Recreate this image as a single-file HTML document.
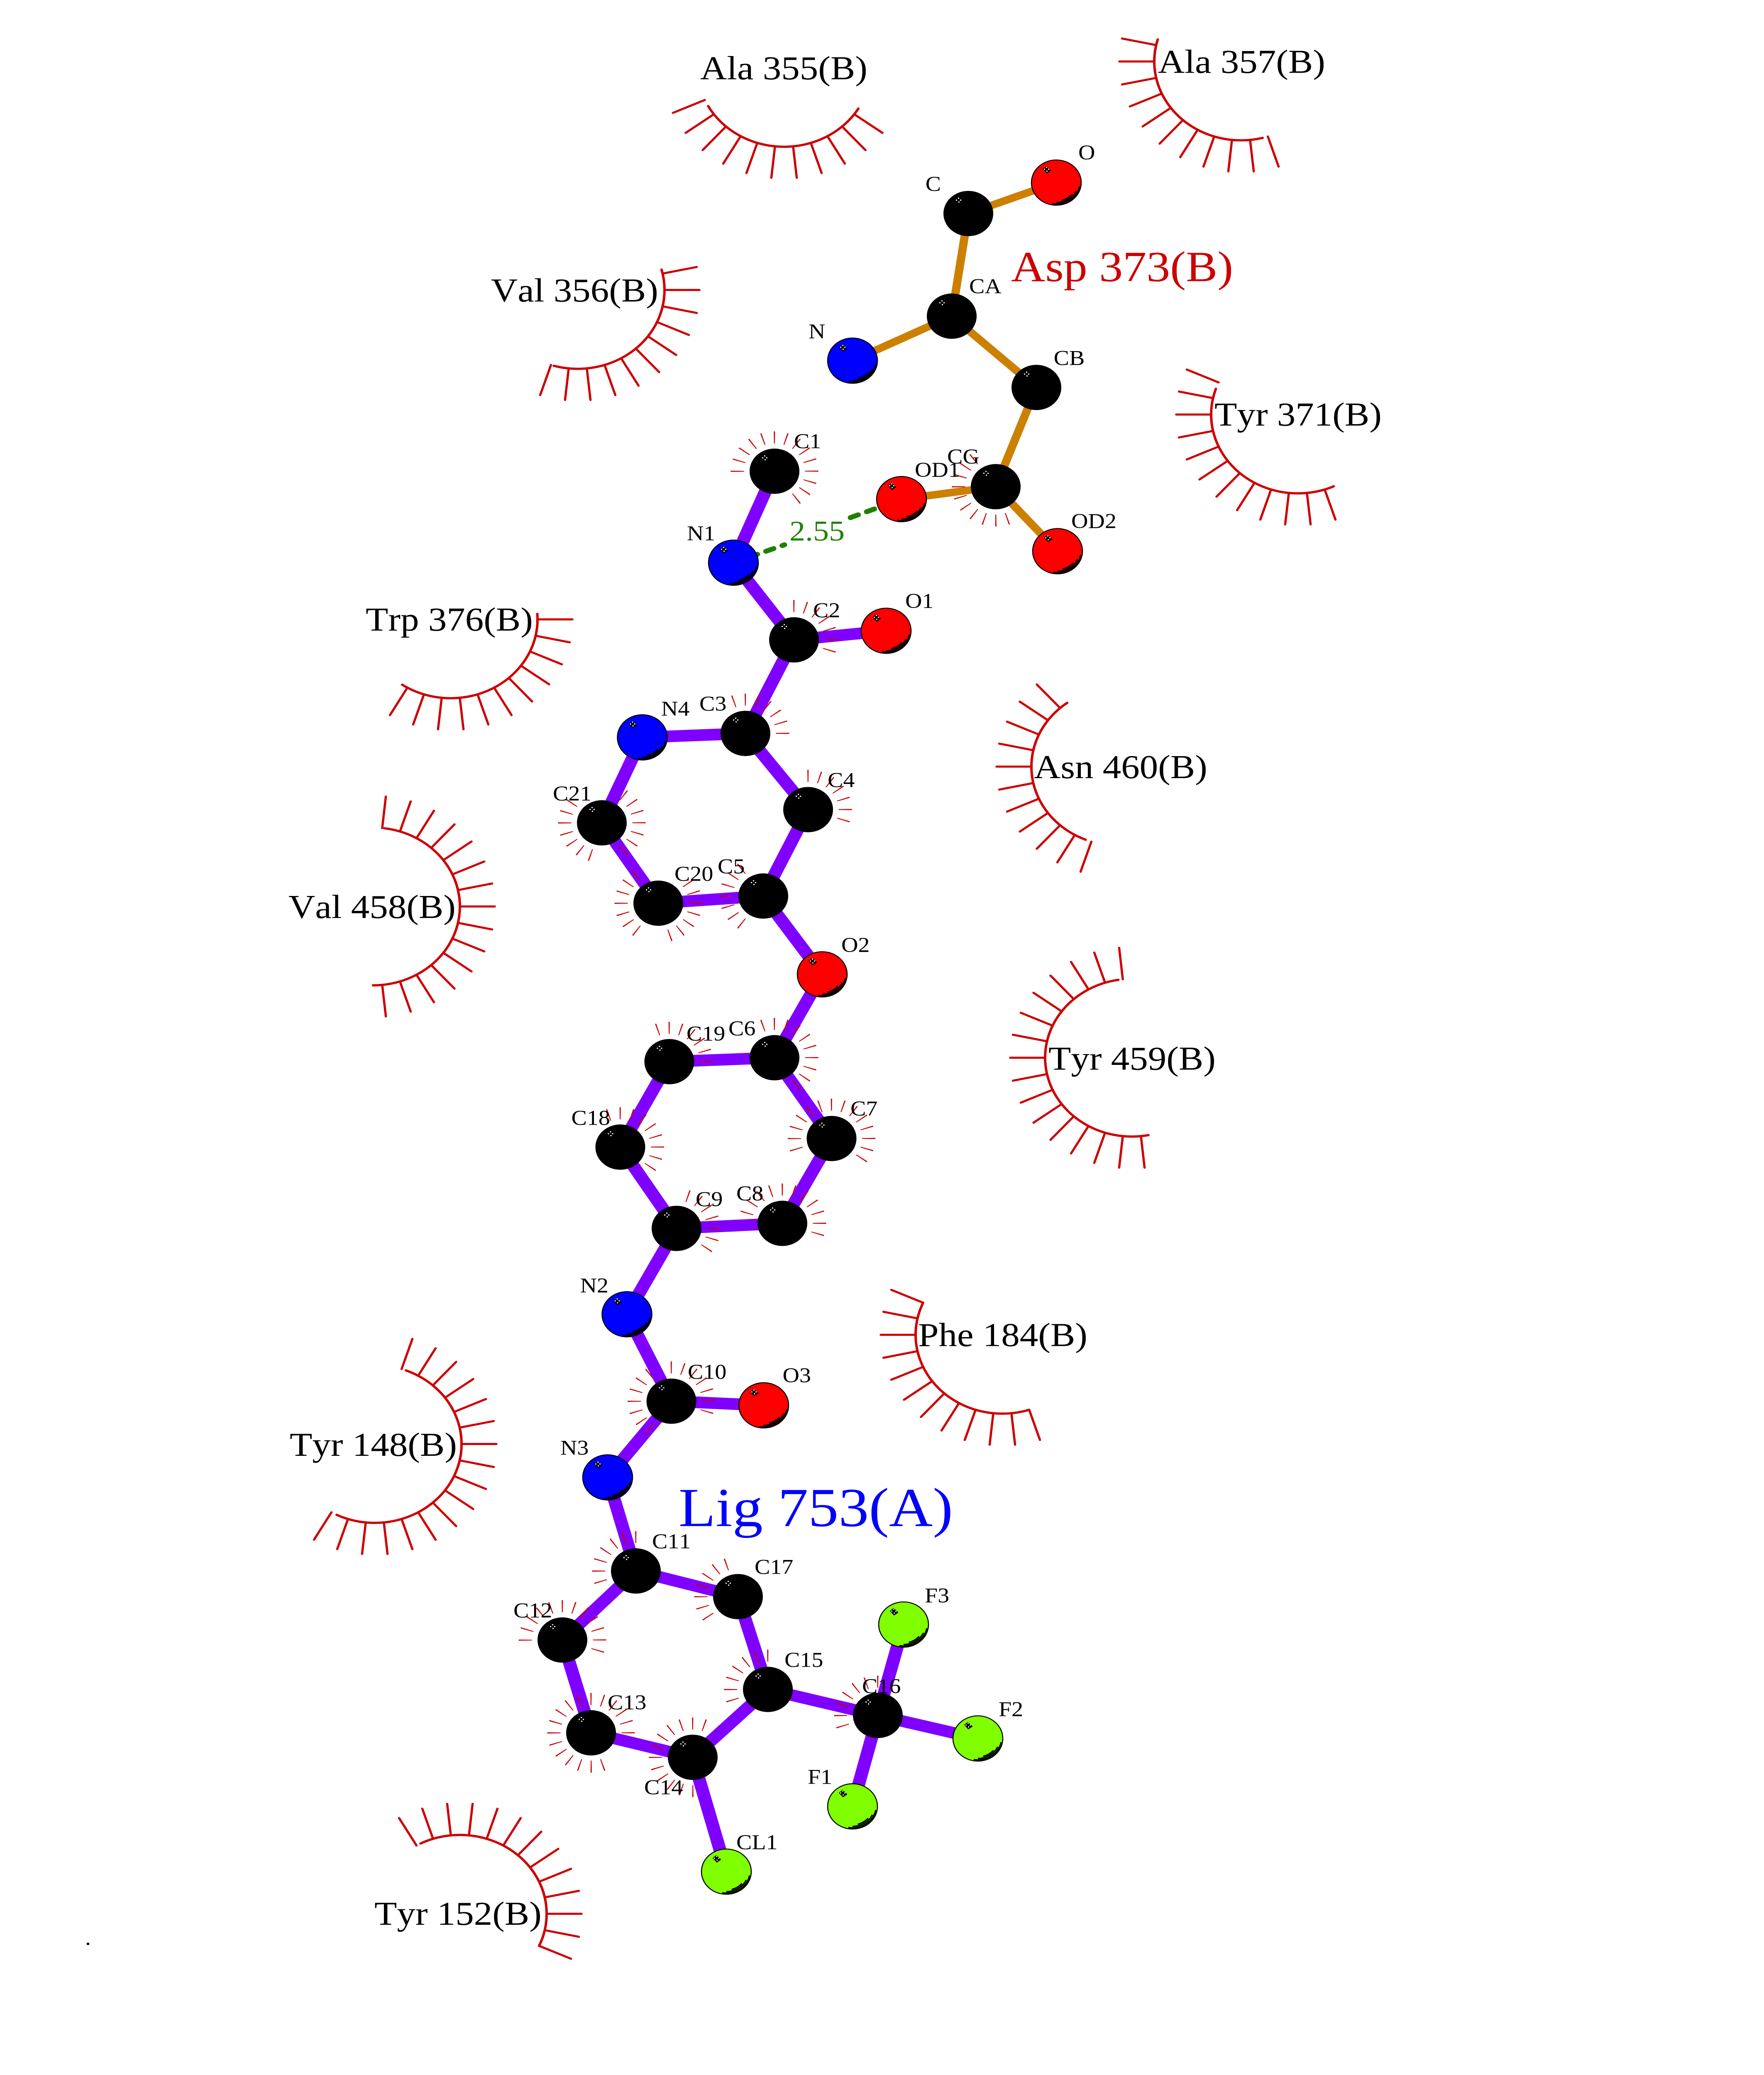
<!DOCTYPE html>
<html>
<head>
<meta charset="utf-8">
<title>LigPlot diagram</title>
<style>
html,body{margin:0;padding:0;background:#fff;width:100%;height:100%;overflow:hidden}
svg{display:block;position:fixed;left:0;top:0;width:100vw;height:100vh;overflow:hidden}
text{font-family:"Liberation Serif","Times New Roman",serif;font-kerning:none}
.r{font-size:89px;fill:#000}
.a{font-size:56px;fill:#000}
</style>
</head>
<body>
<svg xmlns="http://www.w3.org/2000/svg" viewBox="0 0 4250 5500" preserveAspectRatio="none">
<defs>
<line id="s" x1="209" y1="0" x2="293" y2="0" stroke="#cc0000" stroke-width="5.5" stroke-linecap="round"/>
<g id="f11">
<use href="#s"/><use href="#s" transform="rotate(12)"/><use href="#s" transform="rotate(24)"/><use href="#s" transform="rotate(36)"/><use href="#s" transform="rotate(48)"/><use href="#s" transform="rotate(60)"/><use href="#s" transform="rotate(72)"/><use href="#s" transform="rotate(84)"/><use href="#s" transform="rotate(96)"/><use href="#s" transform="rotate(108)"/><use href="#s" transform="rotate(120)"/>
</g>
<g id="f12"><use href="#f11"/><use href="#s" transform="rotate(132)"/></g>
<g id="f13"><use href="#f12"/><use href="#s" transform="rotate(144)"/></g>
<g id="f15"><use href="#f13"/><use href="#s" transform="rotate(156)"/><use href="#s" transform="rotate(168)"/></g>
<g id="f16"><use href="#f15"/><use href="#s" transform="rotate(180)"/></g>
<g id="f17"><use href="#f16"/><use href="#s" transform="rotate(192)"/></g>

<circle id="c7" r="89.5" fill="none" stroke="#cc0000" stroke-width="32" stroke-dasharray="2.6 25.52 2.6 25.52 2.6 25.52 2.6 25.52 2.6 25.52 2.6 25.52 2.6 900"/>
<circle id="c9" r="89.5" fill="none" stroke="#cc0000" stroke-width="32" stroke-dasharray="2.6 25.52 2.6 25.52 2.6 25.52 2.6 25.52 2.6 25.52 2.6 25.52 2.6 25.52 2.6 25.52 2.6 900"/>
<circle id="c10" r="89.5" fill="none" stroke="#cc0000" stroke-width="32" stroke-dasharray="2.6 25.52 2.6 25.52 2.6 25.52 2.6 25.52 2.6 25.52 2.6 25.52 2.6 25.52 2.6 25.52 2.6 25.52 2.6 900"/>
<circle id="c11" r="89.5" fill="none" stroke="#cc0000" stroke-width="32" stroke-dasharray="2.6 25.52 2.6 25.52 2.6 25.52 2.6 25.52 2.6 25.52 2.6 25.52 2.6 25.52 2.6 25.52 2.6 25.52 2.6 25.52 2.6 900"/>
<circle id="c12" r="89.5" fill="none" stroke="#cc0000" stroke-width="32" stroke-dasharray="2.6 25.52 2.6 25.52 2.6 25.52 2.6 25.52 2.6 25.52 2.6 25.52 2.6 25.52 2.6 25.52 2.6 25.52 2.6 25.52 2.6 25.52 2.6 900"/>
<circle id="c14" r="89.5" fill="none" stroke="#cc0000" stroke-width="32" stroke-dasharray="2.6 25.52 2.6 25.52 2.6 25.52 2.6 25.52 2.6 25.52 2.6 25.52 2.6 25.52 2.6 25.52 2.6 25.52 2.6 25.52 2.6 25.52 2.6 25.52 2.6 25.52 2.6 900"/>
<circle id="c17" r="89.5" fill="none" stroke="#cc0000" stroke-width="32" stroke-dasharray="2.6 25.52 2.6 25.52 2.6 25.52 2.6 25.52 2.6 25.52 2.6 25.52 2.6 25.52 2.6 25.52 2.6 25.52 2.6 25.52 2.6 25.52 2.6 25.52 2.6 25.52 2.6 25.52 2.6 25.52 2.6 25.52 2.6 900"/>

<g id="w" fill="#fff">
<rect x="-30" y="-37" width="3" height="3"/><rect x="-25" y="-42" width="3" height="3"/><rect x="-24" y="-32" width="3" height="3"/><rect x="-20" y="-37" width="3" height="3"/>
</g>
<g id="k"><circle r="60" fill="#000"/><use href="#w"/></g>
<g id="d">
<path d="M56 10A57 57 0 0 1-10 56M48 22A53 53 0 0 1 0 53M37.500 31.500A49 49 0 0 1 12.700 47.300" fill="none" stroke="#000" stroke-width="3.5"/>
<polygon points="-33,-36 -24,-44 -12.500,-32 -23,-24" fill="#000"/>
<use href="#w"/>
</g>
</defs>

<rect width="4250" height="5500" fill="#fff"/>

<!-- hydrophobic arcs -->
<g fill="none" stroke="#cc0000" stroke-width="6" stroke-linecap="round">
<circle cx="0" cy="0" r="209" transform="translate(1889,180) rotate(31)" stroke-dasharray="437.800 3000"/>
<circle cx="0" cy="0" r="209" transform="translate(2990,163) rotate(75.600)" stroke-dasharray="440 3000"/>
<circle cx="0" cy="0" r="209" transform="translate(1392,768.600) rotate(-15)" stroke-dasharray="441.400 3000"/>
<circle cx="0" cy="0" r="209" transform="translate(1086,1641.700) rotate(-4)" stroke-dasharray="467 3000"/>
<circle cx="0" cy="0" r="209" transform="translate(3127,1098.700) rotate(65.600)" stroke-dasharray="486.600 3000"/>
<circle cx="0" cy="0" r="209" transform="translate(2694,2032) rotate(112)" stroke-dasharray="445 3000"/>
<circle cx="0" cy="0" r="209" transform="translate(2727,2803.600) rotate(79)" stroke-dasharray="664 3000"/>
<circle cx="0" cy="0" r="209" transform="translate(899,2402.700) rotate(-82.600)" stroke-dasharray="629.600 3000"/>
<circle cx="0" cy="0" r="209" transform="translate(2415,3538) rotate(72)" stroke-dasharray="481.500 3000"/>
<circle cx="0" cy="0" r="209" transform="translate(903,3827.500) rotate(-69)" stroke-dasharray="675 3000"/>
<circle cx="0" cy="0" r="209" transform="translate(1108,5072.700) rotate(-117)" stroke-dasharray="514.400 3000"/>
</g>
<use href="#f11" transform="translate(1889,180) rotate(36)"/>
<use href="#f11" transform="translate(2990,163) rotate(72)"/>
<use href="#f11" transform="translate(1392,768.600) rotate(-12)"/>
<use href="#f11" transform="translate(1086,1641.700)"/>
<use href="#f12" transform="translate(3127,1098.700) rotate(72)"/>
<use href="#f11" transform="translate(2694,2032) rotate(108)"/>
<use href="#f16" transform="translate(2727,2803.600) rotate(84)"/>
<use href="#f15" transform="translate(899,2402.700) rotate(-84)"/>
<use href="#f12" transform="translate(2415,3538) rotate(72)"/>
<use href="#f17" transform="translate(903,3827.500) rotate(-72)"/>
<use href="#f13" transform="translate(1108,5072.700) rotate(-120)"/>

<!-- residue bonds -->
<path fill="none" stroke="#cc8000" stroke-width="20" d="M2333 566L2545 484M2333 566L2293 838M2293 838L2054 956M2293 838L2497 1027M2497 1027L2399 1290M2399 1290L2172 1323M2399 1290L2548 1461"/>

<!-- ligand bonds -->
<path fill="none" stroke="#8000ff" stroke-width="31" d="M1767 1491.500L1866 1249M1767 1491.500L1913 1696M1913 1696L2135 1672M1913 1696L1796 1944M1796 1944L1547.500 1954.500M1547.500 1954.500L1450 2181M1450 2181L1586 2394M1586 2394L1839 2375M1796 1944L1947 2146M1947 2146L1839 2375M1839 2375L1981 2582.600M1981 2582.600L1866 2803.600M1866 2803.600L1612.500 2814M1612.500 2814L1494.500 3040.500M1494.500 3040.500L1630 3256M1630 3256L1885 3242.600M1885 3242.600L2003.500 3017.700M2003.500 3017.700L1866 2803.600M1630 3256L1510.500 3483.600M1510.500 3483.600L1617.600 3714M1617.600 3714L1840 3725M1617.600 3714L1464 3916M1464 3916L1532 4164M1532 4164L1355 4347M1355 4347L1424 4593M1424 4593L1669 4658M1669 4658L1850 4478M1850 4478L2115 4547M1850 4478L1778 4232M1778 4232L1532 4164M1669 4658L1750 4961M2115 4547L2054 4788M2115 4547L2356 4608M2115 4547L2177 4306"/>

<!-- hydrogen bond -->
<g stroke="#1f8000" stroke-width="13" stroke-linecap="round" stroke-dasharray="20 22" fill="none">
<path d="M1767 1491.500L1890 1444"/>
<path d="M2049 1372L2172 1323"/>
</g>

<!-- atom contact ticks -->
<use href="#c14" transform="translate(1866,1249) rotate(179)"/>
<use href="#c10" transform="translate(2399,1290) rotate(71)"/>
<use href="#c7" transform="translate(1913,1696) rotate(269)"/>
<use href="#c7" transform="translate(1796,1944) rotate(251)"/>
<use href="#c7" transform="translate(1947,2146) rotate(269)"/>
<use href="#c7" transform="translate(1450,2181) rotate(107)"/>
<use href="#c7" transform="translate(1450,2181) rotate(305)"/>
<use href="#c7" transform="translate(1586,2394) rotate(125)"/>
<use href="#c7" transform="translate(1586,2394) rotate(323)"/>
<use href="#c7" transform="translate(1839,2375) rotate(125)"/>
<use href="#c7" transform="translate(1612.500,2814) rotate(251)"/>
<use href="#c10" transform="translate(1866,2803.600) rotate(251)"/>
<use href="#c14" transform="translate(2003.500,3017.700) rotate(161)"/>
<use href="#c9" transform="translate(1494.500,3040.500) rotate(251)"/>
<use href="#c7" transform="translate(1630,3256) rotate(287)"/>
<use href="#c11" transform="translate(1885,3242.600) rotate(197)"/>
<use href="#c7" transform="translate(1617.600,3714) rotate(125)"/>
<use href="#c7" transform="translate(1617.600,3714) rotate(269)"/>
<use href="#c7" transform="translate(1532,4164) rotate(161)"/>
<use href="#c7" transform="translate(1778,4232) rotate(143)"/>
<use href="#c12" transform="translate(1355,4347) rotate(179)"/>
<use href="#c17" transform="translate(1424,4593) rotate(71)"/>
<use href="#c12" transform="translate(1669,4658) rotate(89)"/>
<use href="#c7" transform="translate(1850,4478) rotate(161)"/>
<use href="#c7" transform="translate(2115,4547) rotate(161)"/>

<!-- black atoms -->
<use href="#k" x="2333" y="566"/>
<use href="#k" x="2293" y="838"/>
<use href="#k" x="2497" y="1027"/>
<use href="#k" x="2399" y="1290"/>
<use href="#k" x="1866" y="1249"/>
<use href="#k" x="1913" y="1696"/>
<use href="#k" x="1796" y="1944"/>
<use href="#k" x="1947" y="2146"/>
<use href="#k" x="1450" y="2181"/>
<use href="#k" x="1586" y="2394"/>
<use href="#k" x="1839" y="2375"/>
<use href="#k" x="1612.500" y="2814"/>
<use href="#k" x="1866" y="2803.600"/>
<use href="#k" x="1494.500" y="3040.500"/>
<use href="#k" x="2003.500" y="3017.700"/>
<use href="#k" x="1630" y="3256"/>
<use href="#k" x="1885" y="3242.600"/>
<use href="#k" x="1617.600" y="3714"/>
<use href="#k" x="1532" y="4164"/>
<use href="#k" x="1778" y="4232"/>
<use href="#k" x="1355" y="4347"/>
<use href="#k" x="1424" y="4593"/>
<use href="#k" x="1669" y="4658"/>
<use href="#k" x="1850" y="4478"/>
<use href="#k" x="2115" y="4547"/>

<!-- coloured atoms -->
<g stroke="#000" stroke-width="2.500">
<circle cx="2545" cy="484" r="60" fill="#ff0000"/>
<circle cx="2054" cy="956" r="60" fill="#0000ff"/>
<circle cx="2172" cy="1323" r="60" fill="#ff0000"/>
<circle cx="2548" cy="1461" r="60" fill="#ff0000"/>
<circle cx="1767" cy="1491.500" r="60" fill="#0000ff"/>
<circle cx="2135" cy="1672" r="60" fill="#ff0000"/>
<circle cx="1547.500" cy="1954.500" r="60" fill="#0000ff"/>
<circle cx="1981" cy="2582.600" r="60" fill="#ff0000"/>
<circle cx="1510.500" cy="3483.600" r="60" fill="#0000ff"/>
<circle cx="1840" cy="3725" r="60" fill="#ff0000"/>
<circle cx="1464" cy="3916" r="60" fill="#0000ff"/>
<circle cx="2177" cy="4306" r="60" fill="#80ff00"/>
<circle cx="2356" cy="4608" r="60" fill="#80ff00"/>
<circle cx="2054" cy="4788" r="60" fill="#80ff00"/>
<circle cx="1750" cy="4961" r="60" fill="#80ff00"/>
</g>
<use href="#d" x="2545" y="484"/>
<use href="#d" x="2054" y="956"/>
<use href="#d" x="2172" y="1323"/>
<use href="#d" x="2548" y="1461"/>
<use href="#d" x="1767" y="1491.500"/>
<use href="#d" x="2135" y="1672"/>
<use href="#d" x="1547.500" y="1954.500"/>
<use href="#d" x="1981" y="2582.600"/>
<use href="#d" x="1510.500" y="3483.600"/>
<use href="#d" x="1840" y="3725"/>
<use href="#d" x="1464" y="3916"/>
<use href="#d" x="2177" y="4306"/>
<use href="#d" x="2356" y="4608"/>
<use href="#d" x="2054" y="4788"/>
<use href="#d" x="1750" y="4961"/>

<!-- residue labels -->
<text class="r" x="1687" y="210">Ala 355(B)</text>
<text class="r" x="2790" y="193">Ala 357(B)</text>
<text class="r" x="1183" y="799">Val 356(B)</text>
<text class="r" x="881" y="1671.500">Trp 376(B)</text>
<text class="r" x="2926" y="1128">Tyr 371(B)</text>
<text class="r" x="2491" y="2062.500">Asn 460(B)</text>
<text class="r" x="2526" y="2835">Tyr 459(B)</text>
<text class="r" x="695" y="2433">Val 458(B)</text>
<text class="r" x="2212" y="3568">Phe 184(B)</text>
<text class="r" x="698" y="3858.600">Tyr 148(B)</text>
<text class="r" x="902" y="5102">Tyr 152(B)</text>
<text x="2436" y="745.500" font-size="114" fill="#cc0000">Asp 373(B)</text>
<text x="1635" y="4045" font-size="146" fill="#0000ff">Lig 753(A)</text>
<text x="1902" y="1432.600" font-size="76" fill="#1f8000">2.55</text>
<text x="205" y="5155" font-size="56" fill="#000">.</text>

<!-- atom labels -->
<text class="a" x="2229.600" y="506">C</text>
<text class="a" x="2598" y="423">O</text>
<text class="a" x="2335" y="777">CA</text>
<text class="a" x="1948" y="897">N</text>
<text class="a" x="2538.600" y="967.500">CB</text>
<text class="a" x="2282" y="1228.600">CG</text>
<text class="a" x="2204" y="1264">OD1</text>
<text class="a" x="2581" y="1400">OD2</text>
<text class="a" x="1913" y="1188">C1</text>
<text class="a" x="1655" y="1432">N1</text>
<text class="a" x="1959" y="1636">C2</text>
<text class="a" x="2181" y="1611.600">O1</text>
<text class="a" x="1593" y="1897">N4</text>
<text class="a" x="1685" y="1883.500">C3</text>
<text class="a" x="1994" y="2086">C4</text>
<text class="a" x="1332" y="2122">C21</text>
<text class="a" x="1625" y="2335">C20</text>
<text class="a" x="1729" y="2315">C5</text>
<text class="a" x="2027" y="2523.500">O2</text>
<text class="a" x="1654" y="2758">C19</text>
<text class="a" x="1755" y="2744.500">C6</text>
<text class="a" x="1376.500" y="2981.500">C18</text>
<text class="a" x="2049" y="2957">C7</text>
<text class="a" x="1676" y="3197">C9</text>
<text class="a" x="1774" y="3182">C8</text>
<text class="a" x="1397.600" y="3426">N2</text>
<text class="a" x="1657" y="3655">C10</text>
<text class="a" x="1885.500" y="3664">O3</text>
<text class="a" x="1350" y="3856">N3</text>
<text class="a" x="1571" y="4104">C11</text>
<text class="a" x="1818" y="4172">C17</text>
<text class="a" x="1237" y="4287">C12</text>
<text class="a" x="1464" y="4531">C13</text>
<text class="a" x="1552" y="4756">C14</text>
<text class="a" x="1890" y="4418">C15</text>
<text class="a" x="2077" y="4488">C16</text>
<text class="a" x="2228" y="4247.500">F3</text>
<text class="a" x="2406" y="4549">F2</text>
<text class="a" x="1946" y="4728.600">F1</text>
<text class="a" x="1774" y="4901.500">CL1</text>
</svg>
</body>
</html>
